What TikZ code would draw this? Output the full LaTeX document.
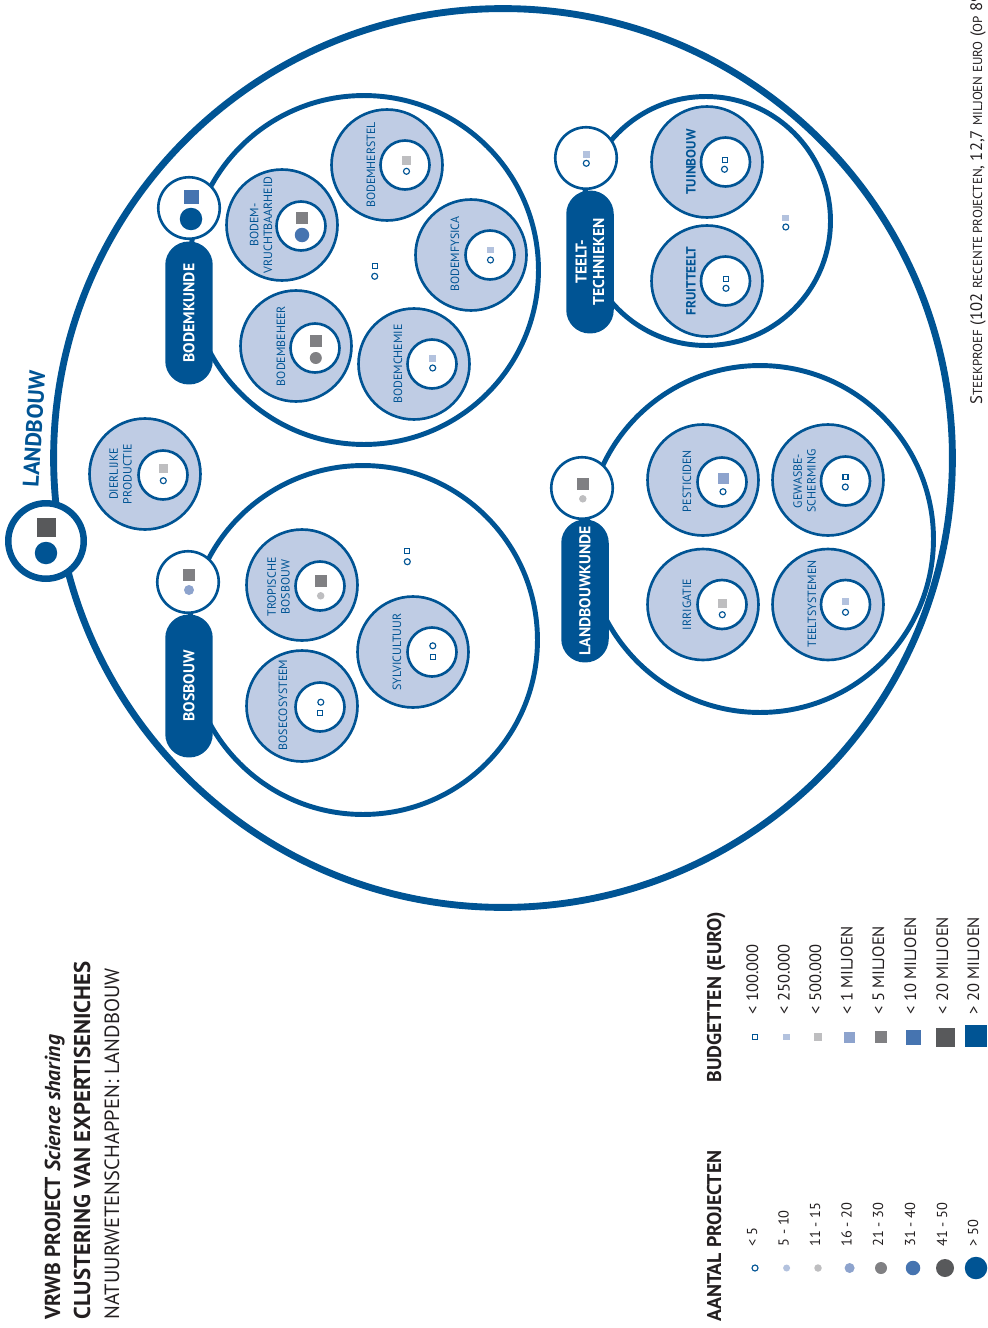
\documentclass[tikz,border=0pt]{standalone}
\usepackage{fontspec}
\setmainfont{PT Sans}
\usepackage{tikz}
\usetikzlibrary{positioning}

\definecolor{vrblue}{RGB}{0,84,148}
\definecolor{vrfill}{RGB}{191,204,228}
\definecolor{vrtext}{RGB}{35,31,32}
\definecolor{clblue}{RGB}{179,194,222}
\definecolor{cmblue}{RGB}{141,163,205}
\definecolor{cblue}{RGB}{70,116,176}
\definecolor{cgrayl}{RGB}{190,190,192}
\definecolor{cgray}{RGB}{128,128,131}
\definecolor{cgrayd}{RGB}{88,89,91}

\newcommand\fsc[1]{{\fontsize{7.4}{8}\selectfont #1}}

\begin{document}
\begin{tikzpicture}[x=0.02cm, y=-0.02cm,
    rim/.style={circle, draw=vrblue, line width=3.9pt, minimum size=17.98cm, inner sep=0pt},
    hub/.style={circle, draw=vrblue, fill=white, line width=3.7pt, minimum size=1.51cm, inner sep=0pt},
    cluster/.style={circle, draw=vrblue, line width=2.8pt, inner sep=0pt},
    lead/.style={circle, draw=vrblue, fill=white, line width=1.5pt, minimum size=1.23cm, inner sep=0pt},
    topic/.style={circle, draw=vrblue, fill=vrfill, line width=1.5pt, minimum size=2.22cm, inner sep=0pt},
    core/.style={circle, draw=vrblue, fill=white, line width=1.5pt, minimum size=0.98cm, inner sep=0pt},
    pill/.style={rectangle, rounded corners=0.47cm, fill=vrblue, text=white, rotate=90, minimum width=2.86cm, minimum height=0.95cm, inner sep=0pt, align=center, font=\bfseries\fontsize{8.9}{10}\selectfont},
    topictext/.style={rotate=90, text=vrblue, align=center, inner sep=0pt, font=\fontsize{6.8}{7.8}\selectfont},
    boldtopictext/.style={topictext, font=\bfseries\fontsize{7.6}{8.5}\selectfont},
    budgetsq/.style={rectangle, inner sep=0pt, minimum size=#1},
    countdot/.style={circle, inner sep=0pt, minimum size=#1},
    b1/.style={budgetsq=0.1cm, draw=vrblue, line width=0.65pt, fill=white},
    b2/.style={budgetsq=0.13cm, fill=clblue},
    b3/.style={budgetsq=0.17cm, fill=cgrayl},
    b4/.style={budgetsq=0.22cm, fill=cmblue},
    b5/.style={budgetsq=0.24cm, fill=cgray},
    b6/.style={budgetsq=0.30cm, fill=cblue},
    b7/.style={budgetsq=0.38cm, fill=cgrayd},
    b8/.style={budgetsq=0.44cm, fill=vrblue},
    n1/.style={countdot=0.12cm, draw=vrblue, line width=0.65pt, fill=white},
    n2/.style={countdot=0.14cm, fill=clblue},
    n3/.style={countdot=0.15cm, fill=cgrayl},
    n4/.style={countdot=0.2cm, fill=cmblue},
    n5/.style={countdot=0.24cm, fill=cgray},
    n6/.style={countdot=0.29cm, fill=cblue},
    n7/.style={countdot=0.36cm, fill=cgrayd},
    n8/.style={countdot=0.45cm, fill=vrblue},
    legendhead/.style={rotate=90, anchor=base west, inner sep=0pt, text=vrtext, font=\bfseries\fontsize{11.3}{12}\selectfont},
    legendtext/.style={rotate=90, anchor=base west, inner sep=0pt, text=vrtext, font=\fontsize{8.2}{10}\selectfont},
    budgettext/.style={legendtext, font=\fontsize{9.4}{10}\selectfont},
    titletext/.style={rotate=90, anchor=base west, inner sep=0pt, text=vrtext}]
    \useasboundingbox (0,0) rectangle (987,1328);

    % landbouw
    \node[rim] (landbouw) at (503,458) {};
    \node[hub] (landbouwhub) at (46,541) {};
    \node[b7] (landbouw-b) at (46.5,527.5) {};
    \node[n8] (landbouw-n) at (46,553) {};
    \node[rotate=86.5, text=vrblue, inner sep=0pt, font=\bfseries\fontsize{12.8}{14}\selectfont] (landbouwtitle) at (34,429) {LANDBOUW};

    % clusters
    \node[cluster, minimum size=6.98cm] (bodemkunde) at (364,270) {};
    \node[cluster, minimum size=4.98cm] (teelt) at (706,221) {};
    \node[cluster, minimum size=6.94cm] (landbouwkunde) at (760,539) {};
    \node[cluster, minimum size=6.98cm] (bosbouw) at (363,640) {};

    \node[pill] (bodemkundepill) at (189,313) {BODEMKUNDE};
    \node[pill] (teeltpill) at (590,262) {TEELT-\\TECHNIEKEN};
    \node[pill] (landbouwkundepill) at (585,591) {LANDBOUWKUNDE};
    \node[pill] (bosbouwpill) at (189,686) {BOSBOUW};

    \node[lead] (bodemkundelead) at (189,208) {};
    \node[b6] (bodemkunde-b) at (191,197) {};
    \node[n8] (bodemkunde-n) at (191,219) {};
    \node[lead] (teeltlead) at (586,158) {};
    \node[b2] (teelt-b) at (586.3,154.7) {};
    \node[n1] (teelt-n) at (586.3,163.3) {};
    \node[lead] (landbouwkundelead) at (582,488) {};
    \node[b5] (landbouwkunde-b) at (582.8,483.7) {};
    \node[n3] (landbouwkunde-n) at (582.8,498.8) {};
    \node[lead] (bosbouwlead) at (188,582) {};
    \node[b5] (bosbouw-b) at (189,575) {};
    \node[n4] (bosbouw-n) at (189,590) {};

    % bodemkunde
    \node[topic] (vrucht) at (282,225) {};
    \node[core] (vruchtcore) at (301,226) {};
    \node[topictext] (vruchttext) at (261,225) {BODEM-\\VRUCHTBAARHEID};
    \node[b5] (vrucht-b) at (302,218) {};
    \node[n6] (vrucht-n) at (302,235) {};

    \node[topic] (herstel) at (387,165) {};
    \node[core] (herstelcore) at (405,165) {};
    \node[topictext] (hersteltext) at (371,165) {BODEMHERSTEL};
    \node[b3] (herstel-b) at (406.5,160.5) {};
    \node[n1] (herstel-n) at (406.5,171.3) {};

    \node[topic] (fysica) at (471,255) {};
    \node[core] (fysicacore) at (490,255) {};
    \node[topictext] (fysicatext) at (455,254) {BODEMFYSICA};
    \node[b2] (fysica-b) at (490.5,250) {};
    \node[n1] (fysica-n) at (490.5,260) {};

    \node[topic] (chemie) at (414,364) {};
    \node[core] (chemiecore) at (432,364) {};
    \node[topictext] (chemietext) at (398,364) {BODEMCHEMIE};
    \node[b2] (chemie-b) at (432.7,358.5) {};
    \node[n1] (chemie-n) at (432.7,368) {};

    \node[topic] (beheer) at (296,346) {};
    \node[core] (beheercore) at (315,348) {};
    \node[topictext] (beheertext) at (281,346) {BODEMBEHEER};
    \node[b5] (beheer-b) at (315.8,340.8) {};
    \node[n5] (beheer-n) at (315.8,358) {};

    \node[b1] (bodemkundefree-b) at (374.7,266) {};
    \node[n1] (bodemkundefree-n) at (374.7,276.3) {};

    % dierlijke productie
    \node[topic] (dier) at (145,474) {};
    \node[core] (diercore) at (163,475) {};
    \node[topictext] (diertext) at (120.5,474) {DIERLIJKE\\PRODUCTIE};
    \node[b3] (dier-b) at (163.5,468.3) {};
    \node[n1] (dier-n) at (163.3,480.7) {};

    % bosbouw
    \node[topic] (tropisch) at (302,585) {};
    \node[core] (tropischcore) at (320,586) {};
    \node[topictext] (tropischtext) at (278.5,587) {TROPISCHE\\BOSBOUW};
    \node[b5] (tropisch-b) at (320.8,580.8) {};
    \node[n3] (tropisch-n) at (320.7,595.8) {};

    \node[topic] (sylvi) at (413,652) {};
    \node[core] (sylvicore) at (432,652) {};
    \node[topictext] (sylvitext) at (397,652) {SYLVICULTUUR};
    \node[n1] (sylvi-n) at (432.8,645.8) {};
    \node[b1] (sylvi-b) at (432.7,656.8) {};

    \node[topic] (boseco) at (302,706) {};
    \node[core] (bosecocore) at (320,707) {};
    \node[topictext] (bosecotext) at (283,705) {BOSECOSYSTEEM};
    \node[n1] (boseco-n) at (320.8,702.2) {};
    \node[b1] (boseco-b) at (320.3,713.3) {};

    \node[b1] (bosbouwfree-b) at (407.3,551) {};
    \node[n1] (bosbouwfree-n) at (407.3,561.7) {};

    % teelttechnieken
    \node[topic] (tuin) at (707,162) {};
    \node[core] (tuincore) at (725.5,162) {};
    \node[boldtopictext] (tuintext) at (691,162) {TUINBOUW};
    \node[b1] (tuin-b) at (725.2,159.7) {};
    \node[n1] (tuin-n) at (724.5,169.3) {};

    \node[topic] (fruit) at (707,281) {};
    \node[core] (fruitcore) at (725.5,281) {};
    \node[boldtopictext] (fruittext) at (691,281) {FRUITTEELT};
    \node[b1] (fruit-b) at (726,279) {};
    \node[n1] (fruit-n) at (726,288.3) {};

    \node[b2] (teeltfree-b) at (785.7,218) {};
    \node[n1] (teeltfree-n) at (785.8,227) {};

    % landbouwkunde
    \node[topic] (pesti) at (703,480) {};
    \node[core] (pesticore) at (722,482) {};
    \node[topictext] (pestitext) at (687,481) {PESTICIDEN};
    \node[b4] (pesti-b) at (723.3,478.3) {};
    \node[n1] (pesti-n) at (723,491.7) {};

    \node[topic] (gewas) at (828,480) {};
    \node[core] (gewascore) at (845.5,481) {};
    \node[topictext] (gewastext) at (804.5,481) {GEWASBE-\\SCHERMING};
    \node[b1] (gewas-b) at (845.5,476.7) {};
    \node[n1] (gewas-n) at (845.3,487) {};

    \node[topic] (irri) at (703,604.5) {};
    \node[core] (irricore) at (722,604.5) {};
    \node[topictext] (irritext) at (687,604.5) {IRRIGATIE};
    \node[b3] (irri-b) at (722.3,603.7) {};
    \node[n1] (irri-n) at (722.3,614.7) {};

    \node[topic] (systeem) at (828,604.5) {};
    \node[core] (systeemcore) at (845.5,604.5) {};
    \node[topictext] (systeemtext) at (812,604) {TEELTSYSTEMEN};
    \node[b2] (systeem-b) at (845.5,601.3) {};
    \node[n1] (systeem-n) at (845.5,612.3) {};

    % note
    \node[rotate=90, anchor=base west, inner sep=0pt, text=vrtext, font=\fontsize{9.5}{10}\selectfont] (steekproef) at (982,405) {S\fsc{TEEKPROEF} (102 \fsc{RECENTE PROJECTEN}, 12,7 \fsc{MILJOEN EURO} (\fsc{OP} 89};

    % title
    \node[titletext, font=\bfseries\fontsize{12.3}{13}\selectfont] (title1) at (60,1320) {VRWB PROJECT \textit{Science sharing}};
    \node[titletext, font=\bfseries\fontsize{13}{14}\selectfont] (title2) at (90,1320) {CLUSTERING VAN EXPERTISENICHES};
    \node[titletext, font=\fontsize{11.7}{13}\selectfont] (title3) at (119,1320) {NATUURWETENSCHAPPEN: LANDBOUW};

    % legend
    \node[legendhead] (aantal) at (721,1322) {AANTAL PROJECTEN};
    \node[legendhead] (budget) at (721,1083) {BUDGETTEN (EURO)};

    \node[n1] (cnt1) at (755,1268) {};
    \node[n2] (cnt2) at (786.6,1268) {};
    \node[n3] (cnt3) at (818,1268) {};
    \node[n4] (cnt4) at (849.6,1268) {};
    \node[n5] (cnt5) at (881,1268) {};
    \node[n6] (cnt6) at (913,1268) {};
    \node[n7] (cnt7) at (945,1268) {};
    \node[n8] (cnt8) at (976,1268) {};
    \node[legendtext] (cnt1text) at (757,1247) {< 5};
    \node[legendtext] (cnt2text) at (788.6,1247) {5 - 10};
    \node[legendtext] (cnt3text) at (820,1247) {11 - 15};
    \node[legendtext] (cnt4text) at (851.6,1247) {16 - 20};
    \node[legendtext] (cnt5text) at (883,1247) {21 - 30};
    \node[legendtext] (cnt6text) at (915,1247) {31 - 40};
    \node[legendtext] (cnt7text) at (947,1247) {41 - 50};
    \node[legendtext] (cnt8text) at (978,1247) {> 50};

    \node[b1] (bud1) at (755,1037) {};
    \node[b2] (bud2) at (786.6,1037) {};
    \node[b3] (bud3) at (818,1037) {};
    \node[b4] (bud4) at (849.6,1037) {};
    \node[b5] (bud5) at (881,1037) {};
    \node[b6] (bud6) at (913,1037) {};
    \node[b7] (bud7) at (945,1037) {};
    \node[b8] (bud8) at (976,1036) {};
    \node[budgettext] (bud1text) at (758,1015) {< 100.000};
    \node[budgettext] (bud2text) at (789.6,1015) {< 250.000};
    \node[budgettext] (bud3text) at (821,1015) {< 500.000};
    \node[budgettext] (bud4text) at (852.6,1015) {< 1 MILJOEN};
    \node[budgettext] (bud5text) at (884,1015) {< 5 MILJOEN};
    \node[budgettext] (bud6text) at (916,1015) {< 10 MILJOEN};
    \node[budgettext] (bud7text) at (948,1015) {< 20 MILJOEN};
    \node[budgettext] (bud8text) at (979,1015) {> 20 MILJOEN};
\end{tikzpicture}
\end{document}
